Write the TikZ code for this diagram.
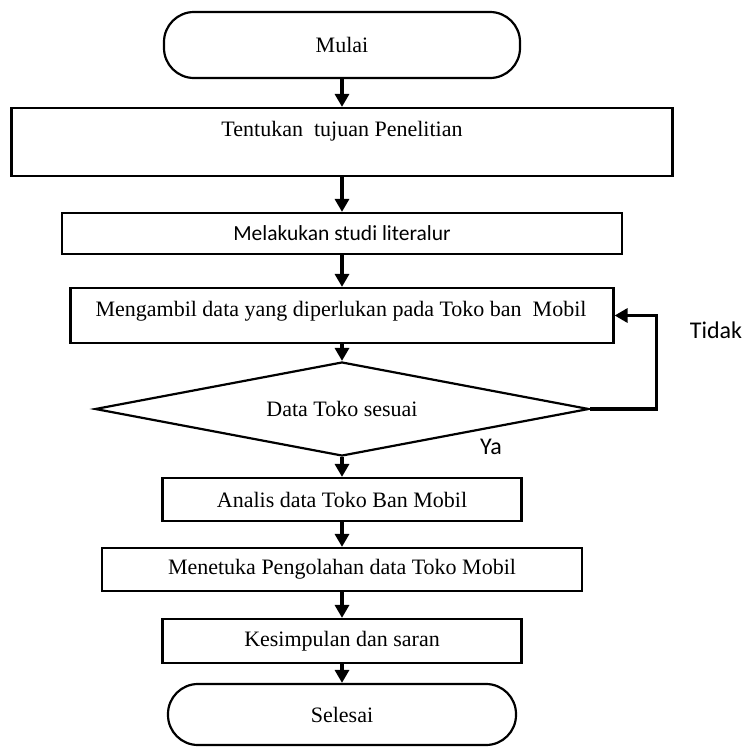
\documentclass[tikz,border=0pt]{standalone}
\usepackage{fontspec}
\setmainfont{Liberation Serif}
\newfontfamily\calib{Carlito}
\usetikzlibrary{arrows.meta,shapes.geometric}
\begin{document}
\begin{tikzpicture}[x=1pt,y=-1pt,
  box/.style={draw,line width=2.2pt,inner sep=0pt,font=\fontsize{22}{26}\selectfont},
  term/.style={box,rounded corners=30pt},
  dec/.style={box,shape=diamond,aspect=5.2},
  flow/.style={line width=3.2pt,-{Triangle[length=13pt,width=14pt]}},
  side/.style={font=\calib\fontsize{24}{28}\selectfont,inner sep=0pt},
  txt/.style={inner sep=0pt,font=\fontsize{22}{26}\selectfont}]
\useasboundingbox (0,0) rectangle (747,747);
\node[term,minimum width=356pt,minimum height=66pt] (mulai) at (342,45) {Mulai};
\node[box,minimum width=661pt,minimum height=68pt] (tentukan) at (342,142) {};
\node[txt] (tentukantxt) at (342,131) {Tentukan\hspace{0.5em}tujuan Penelitian};
\node[box,minimum width=560pt,minimum height=41pt,font=\calib\fontsize{21.5}{25}\selectfont] (melakukan) at (342,233.5) {Melakukan studi literalur};
\node[box,minimum width=543pt,minimum height=55pt] (mengambil) at (342,315.5) {};
\node[txt] (mengambiltxt) at (341,311) {Mengambil data yang diperlukan pada Toko ban\hspace{0.5em}Mobil};
\node[dec,minimum width=494pt,minimum height=94pt] (dec) at (342,409) {Data Toko sesuai};
\node[box,minimum width=359pt,minimum height=43pt] (analis) at (342,499.5) {Analis data Toko Ban Mobil};
\node[box,minimum width=480pt,minimum height=43pt] (menetuka) at (342,569.5) {Menetuka Pengolahan data Toko Mobil};
\node[box,minimum width=359pt,minimum height=44pt] (kesimpulan) at (342,641) {Kesimpulan dan saran};
\node[term,minimum width=348pt,minimum height=61pt] (selesai) at (342,714.5) {Selesai};
\node[side] (tidak) at (716,330) {Tidak};
\node[side] (ya) at (491,447) {Ya};
\draw[flow] (mulai) -- (tentukan);
\draw[flow] (tentukan) -- (melakukan);
\draw[flow] (melakukan) -- (mengambil);
\draw[flow] (mengambil) -- (dec);
\draw[flow] (dec) -- (analis);
\draw[flow] (analis) -- (menetuka);
\draw[flow] (menetuka) -- (kesimpulan);
\draw[flow] (kesimpulan) -- (selesai);
\draw[flow] (dec.east) -- ++(66,0) |- (mengambil.east);
\end{tikzpicture}
\end{document}
